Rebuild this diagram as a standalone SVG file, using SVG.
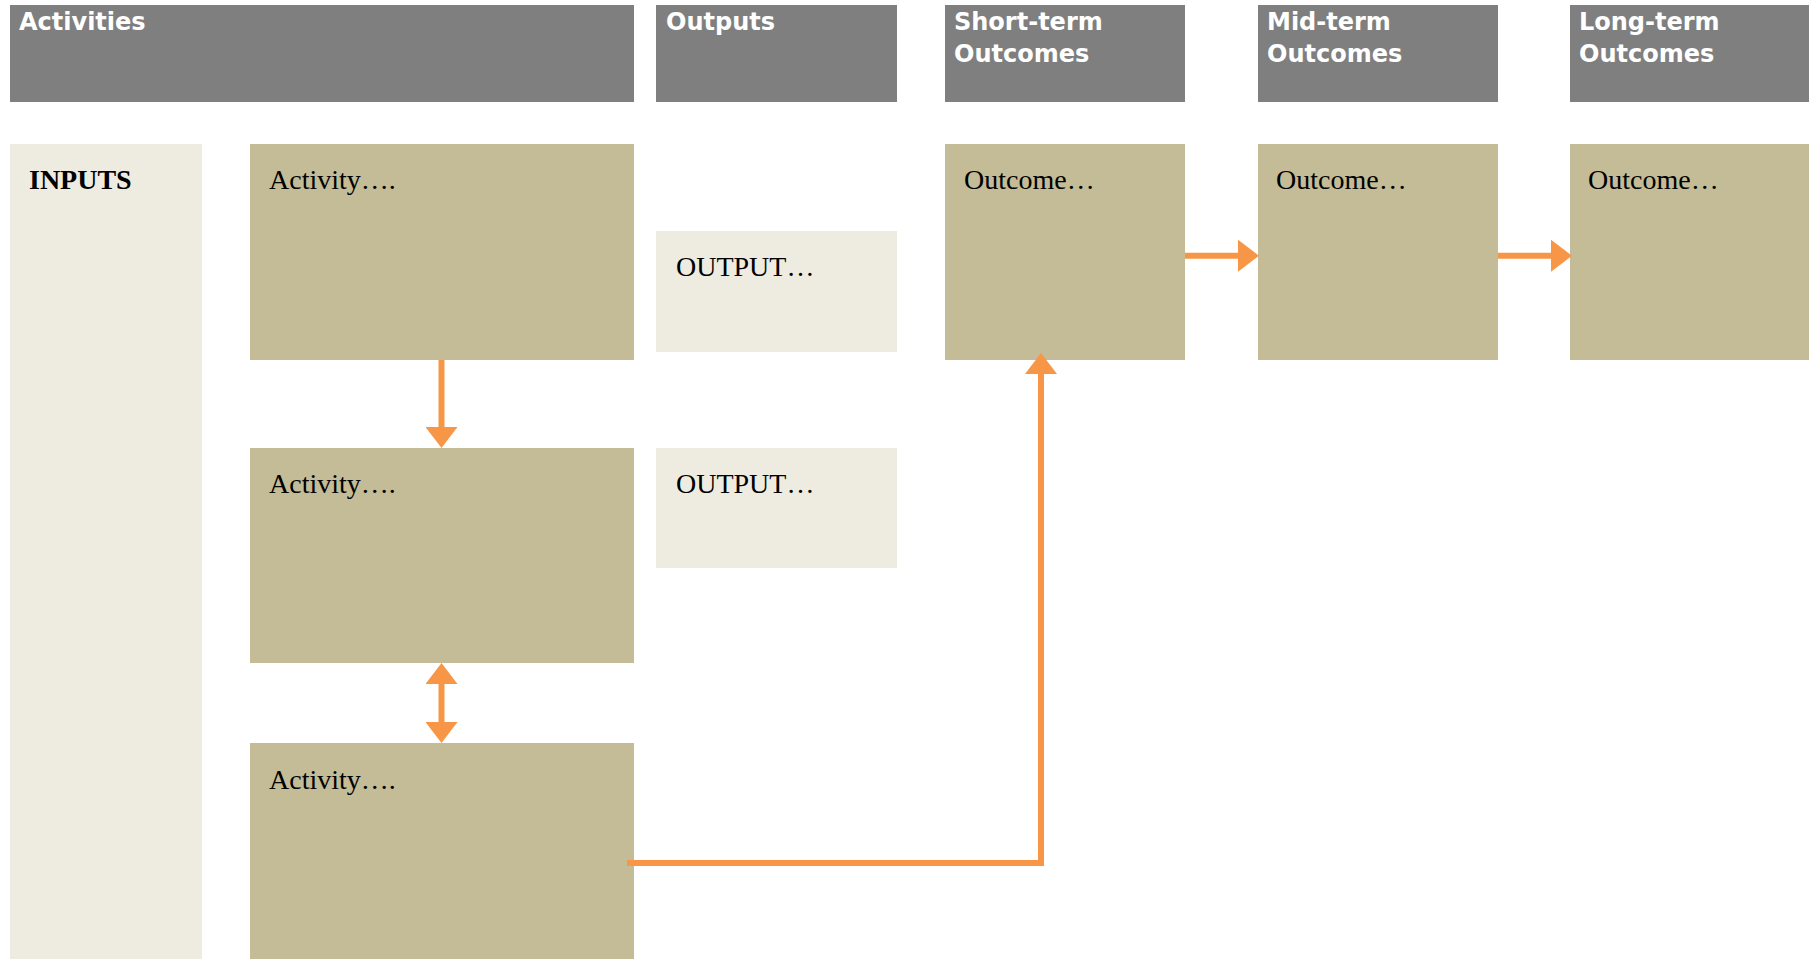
<svg xmlns="http://www.w3.org/2000/svg" width="1812" height="959" viewBox="0 0 1812 959">
<style>
.hdr{fill:#7F7F7F}
.hdrt{font-family:"DejaVu Sans","Verdana",sans-serif;font-weight:bold;font-size:24px;fill:#FFFFFF}
.kh{fill:#C4BC96}
.lt{fill:#EEECE1}
.bt{font-family:"Liberation Serif","Times New Roman",serif;font-size:28px;fill:#000000}
.bold{font-weight:bold}
.conn{stroke:#F79646;stroke-width:6;fill:none;stroke-linejoin:miter}
</style>
<defs>
<marker id="ah" markerUnits="userSpaceOnUse" markerWidth="21" markerHeight="32" viewBox="0 0 21 32" refX="5" refY="16" orient="auto-start-reverse">
<path d="M0,0 L21,16 L0,32 z" fill="#F79646"/>
</marker>
</defs>
<rect width="1812" height="959" fill="#FFFFFF"/>
<g id="hdr-activities"><rect class="hdr" x="10" y="5" width="624" height="97"/><text class="hdrt" x="19" y="30">Activities</text></g>
<g id="hdr-outputs"><rect class="hdr" x="656" y="5" width="241" height="97"/><text class="hdrt" x="666" y="30">Outputs</text></g>
<g id="hdr-short"><rect class="hdr" x="945" y="5" width="240" height="97"/><text class="hdrt" x="954" y="30">Short-term</text><text class="hdrt" x="954" y="62">Outcomes</text></g>
<g id="hdr-mid"><rect class="hdr" x="1258" y="5" width="240" height="97"/><text class="hdrt" x="1267" y="30">Mid-term</text><text class="hdrt" x="1267" y="62">Outcomes</text></g>
<g id="hdr-long"><rect class="hdr" x="1570" y="5" width="239" height="97"/><text class="hdrt" x="1579" y="30">Long-term</text><text class="hdrt" x="1579" y="62">Outcomes</text></g>
<g id="inputs"><rect class="lt" x="10" y="144" width="192" height="815"/><text class="bt bold" x="29" y="189">INPUTS</text></g>
<g id="activity1"><rect class="kh" x="250" y="144" width="384" height="216"/><text class="bt" x="269" y="189">Activity….</text></g>
<g id="activity2"><rect class="kh" x="250" y="448" width="384" height="215"/><text class="bt" x="269" y="493">Activity….</text></g>
<g id="activity3"><rect class="kh" x="250" y="743" width="384" height="216"/><text class="bt" x="269" y="789">Activity….</text></g>
<g id="output1"><rect class="lt" x="656" y="231" width="241" height="121"/><text class="bt" x="676" y="276">OUTPUT…</text></g>
<g id="output2"><rect class="lt" x="656" y="448" width="241" height="120"/><text class="bt" x="676" y="493">OUTPUT…</text></g>
<g id="outcome-short"><rect class="kh" x="945" y="144" width="240" height="216"/><text class="bt" x="964" y="189">Outcome…</text></g>
<g id="outcome-mid"><rect class="kh" x="1258" y="144" width="240" height="216"/><text class="bt" x="1276" y="189">Outcome…</text></g>
<g id="outcome-long"><rect class="kh" x="1570" y="144" width="239" height="216"/><text class="bt" x="1588" y="189">Outcome…</text></g>
<g id="connectors">
<line class="conn" x1="441.5" y1="360" x2="441.5" y2="432" marker-end="url(#ah)"/>
<line class="conn" x1="441.5" y1="679" x2="441.5" y2="727" marker-start="url(#ah)" marker-end="url(#ah)"/>
<line class="conn" x1="1185" y1="255.7" x2="1243" y2="255.7" marker-end="url(#ah)"/>
<line class="conn" x1="1498" y1="255.7" x2="1556" y2="255.7" marker-end="url(#ah)"/>
<polyline class="conn" points="627,863 1041,863 1041,369" marker-end="url(#ah)"/>
</g>
</svg>
